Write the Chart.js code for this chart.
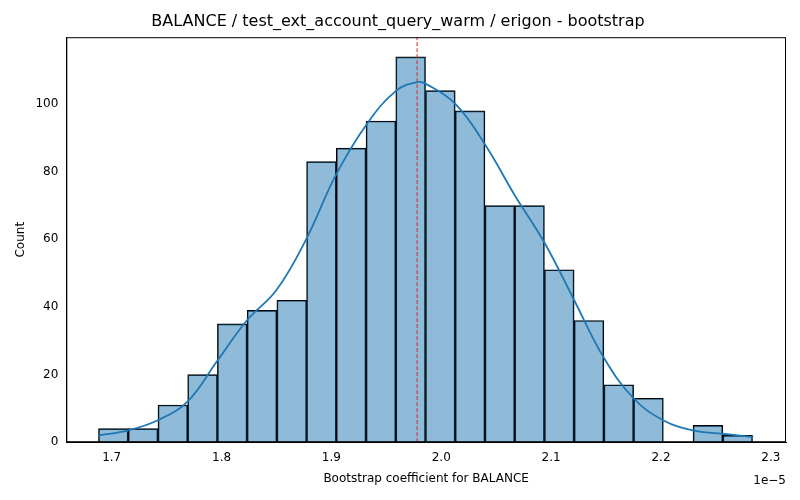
<!DOCTYPE html>
<html>
<head>
<meta charset="utf-8">
<script src="https://cdn.jsdelivr.net/npm/chart.js@4"></script>
<style>
  html, body { margin: 0; padding: 0; background: #fff; }
  #wrap { width: 800px; height: 500px; }
</style>
</head>
<body>
<div id="wrap"><canvas id="chart" width="800" height="500"></canvas></div>
<script>
// bin centres (x 1e-5) and counts
const binStart = 1.688;
const binWidth = 0.02706;
const counts = [4, 4, 11, 20, 35, 39, 42, 83, 87, 95, 114, 104, 98, 70, 70, 51, 36, 17, 13, 0, 5, 2];
// KDE curve
const kdeX = [1.688, 1.715, 1.742, 1.769, 1.796, 1.823, 1.850, 1.877, 1.904, 1.932, 1.959, 1.978, 1.986, 2.013, 2.040, 2.067, 2.094, 2.121, 2.148, 2.175, 2.202, 2.229, 2.256, 2.284];
const kdeY = [2, 3.5, 6.5, 12, 24, 36, 45, 60, 79, 94, 104, 106.5, 106, 100, 88, 73, 59, 42, 25, 13, 6.5, 3.5, 2.5, 1.5];
const meanLine = 1.978;
const xTicks = [1.7, 1.8, 1.9, 2.0, 2.1, 2.2, 2.3];
const yTicks = [0, 20, 40, 60, 80, 100];

const barData = counts.map((c, i) => ({ x: binStart + binWidth * (i + 0.5), y: c }));
const kdeData = kdeX.map((x, i) => ({ x: x, y: kdeY[i] }));

const frame = {
  id: 'frame',
  afterDraw(c) {
    const ctx = c.ctx;
    const a = c.chartArea;
    ctx.save();
    ctx.strokeStyle = '#000';
    ctx.lineWidth = 1;
    ctx.strokeRect(a.left + 0.5, a.top + 0.5, a.right - a.left - 1, a.bottom - a.top - 1);
    ctx.font = '12px "DejaVu Sans"';
    ctx.fillStyle = '#000';
    ctx.textAlign = 'right';
    ctx.fillText('1e\u22125', a.right, a.bottom + 42);
    ctx.restore();
  }
};

new Chart(document.getElementById('chart'), {
  type: 'bar',
  data: {
    datasets: [
      {
        type: 'line',
        data: kdeData,
        borderColor: '#1f77b4',
        borderWidth: 1.8,
        pointRadius: 0,
        tension: 0.4,
        order: 0
      },
      {
        type: 'line',
        data: [{ x: meanLine, y: 0 }, { x: meanLine, y: 120 }],
        borderColor: '#d62728',
        borderWidth: 1,
        borderDash: [4, 2],
        pointRadius: 0,
        order: 0
      },
      {
        type: 'bar',
        data: barData,
        backgroundColor: 'rgba(31,119,180,0.5)',
        borderColor: '#000',
        borderWidth: 1,
        barPercentage: 1,
        categoryPercentage: 1,
        order: 1
      }
    ]
  },
  options: {
    responsive: false,
    animation: false,
    layout: { padding: { left: 10, right: 14, top: 2, bottom: 10 } },
    plugins: {
      legend: { display: false },
      tooltip: { enabled: false },
      title: {
        display: true,
        text: 'BALANCE / test_ext_account_query_warm / erigon - bootstrap',
        color: '#000',
        font: { family: 'DejaVu Sans', size: 16, weight: 'normal' },
        padding: { top: 10, bottom: 6 }
      }
    },
    scales: {
      x: {
        type: 'linear',
        offset: false,
        min: 1.6587,
        max: 2.3138,
        grid: { display: false, offset: false, drawTicks: true, tickLength: 5 },
        border: { color: '#000' },
        afterBuildTicks: (s) => { s.ticks = xTicks.map(v => ({ value: v })); },
        ticks: { color: '#000', font: { family: 'DejaVu Sans', size: 12 }, callback: v => v.toFixed(1) },
        title: { display: true, text: 'Bootstrap coefficient for BALANCE', color: '#000', font: { family: 'DejaVu Sans', size: 12 } }
      },
      y: {
        min: 0,
        max: 119.8,
        grid: { display: false, drawTicks: true, tickLength: 5 },
        border: { color: '#000' },
        afterBuildTicks: (s) => { s.ticks = yTicks.map(v => ({ value: v })); },
        ticks: { color: '#000', font: { family: 'DejaVu Sans', size: 12 } },
        title: { display: true, text: 'Count', color: '#000', font: { family: 'DejaVu Sans', size: 12 } }
      }
    }
  },
  plugins: [frame]
});
</script>
</body>
</html>
